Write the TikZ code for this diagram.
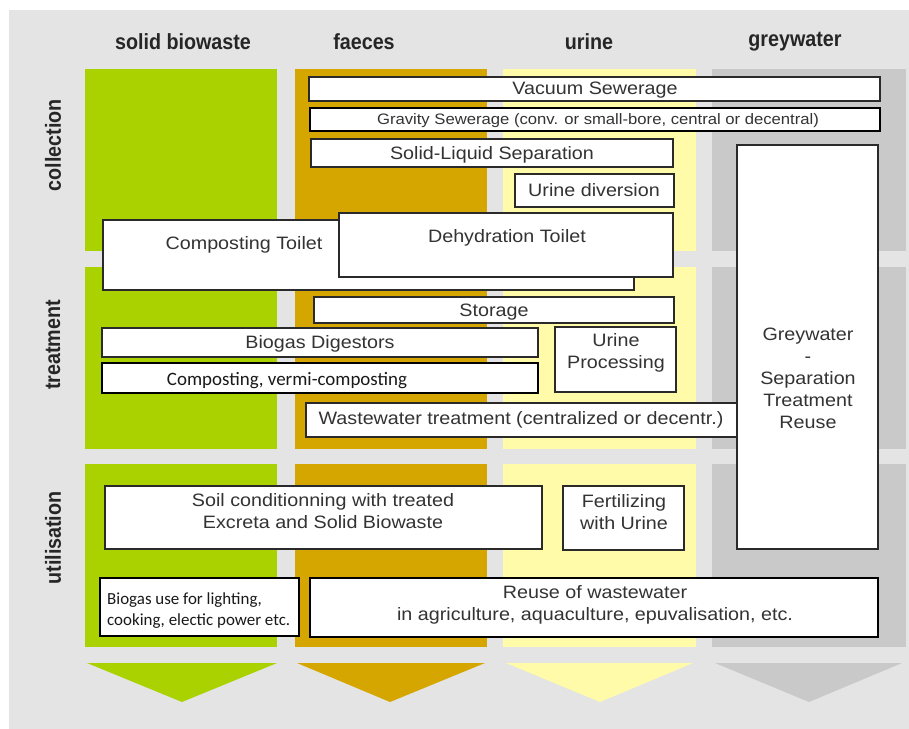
\documentclass[tikz,border=0pt]{standalone}
\usepackage{fontspec}
\setmainfont{Liberation Sans}[FakeStretch=1.1]
\newfontfamily\hdrfont{Liberation Sans}[FakeStretch=0.9]
\newfontfamily\calfont{Carlito}
\definecolor{bgc}{HTML}{E4E4E4}
\definecolor{cgreen}{HTML}{AAD200}
\definecolor{corange}{HTML}{D6A600}
\definecolor{cyellow}{HTML}{FFFBA8}
\definecolor{cgrey}{HTML}{C9C9C9}
\definecolor{boxline}{HTML}{2A2A2A}
\definecolor{txt}{HTML}{333333}
\begin{document}
\begin{tikzpicture}[x=1bp,y=-1bp,
  box/.style={draw=boxline,fill=white,line width=1.4bp,inner sep=0pt,outer sep=0pt,anchor=north west},
  btxt/.style={text=txt,inner sep=0pt,align=center,yshift=-1.5bp,font=\fontsize{18}{22}\selectfont},
  hdr/.style={text=black!85,inner sep=0pt,font=\hdrfont\bfseries\fontsize{22}{26}\selectfont}]
\useasboundingbox (0,0) rectangle (909,729);
\fill[bgc] (9,10) rectangle (909,729);
% column bands
\foreach \xa/\xb/\c in {85/277/cgreen,295/487/corange,503/696/cyellow,712/906/cgrey}{
  \foreach \ya/\yb in {69/251,267/449,464/647}{
    \fill[\c] (\xa,\ya) rectangle (\xb,\yb);
  }
}
% arrows
\fill[cgreen] (87,663) -- (277,663) -- (182,702) -- cycle;
\fill[corange] (297,663) -- (485,663) -- (390,702) -- cycle;
\fill[cyellow] (506,663) -- (693,663) -- (600,702) -- cycle;
\fill[cgrey] (715,663) -- (902,663) -- (809,702) -- cycle;
% headers
\node[hdr] (hsolid) at (183,42) {solid biowaste};
\node[hdr] (hfaeces) at (364,42) {faeces};
\node[hdr] (hurine) at (589,42) {urine};
\node[hdr] (hgrey) at (795,42) {greywater};
\node[hdr,rotate=90] (rcoll) at (53,145) {collection};
\node[hdr,rotate=90] (rtreat) at (53,345) {treatment};
\node[hdr,rotate=90] (rutil) at (53,538) {utilisation};
% collection boxes
\node[box,minimum width=571bp,minimum height=24bp] (vac) at (309,77) {};
\node[btxt] (vact) at (595,89) {Vacuum Sewerage};
\node[box,minimum width=570bp,minimum height=23bp,line width=2bp,draw=black] (grav) at (310,108) {};
\node[btxt,font=\fontsize{15.2}{18}\selectfont] (gravt) at (598,119.5) {Gravity Sewerage (conv. or small-bore, central or decentral)};
\node[box,minimum width=362bp,minimum height=28bp] (sls) at (311,139) {};
\node[btxt] (slst) at (492,153) {Solid-Liquid Separation};
\node[box,minimum width=159bp,minimum height=33bp] (udiv) at (515,174) {};
\node[btxt] (udivt) at (594,188.5) {Urine diversion};
\node[box,minimum width=531bp,minimum height=70bp] (ctoi) at (103,220) {};
\node[btxt] (ctoit) at (244,243) {Composting Toilet};
\node[box,minimum width=334bp,minimum height=64bp] (dtoi) at (339,213) {};
\node[btxt] (dtoit) at (507,236) {Dehydration Toilet};
% treatment boxes
\node[box,minimum width=360bp,minimum height=26bp] (stor) at (314,297) {};
\node[btxt] (stort) at (494,311) {Storage};
\node[box,minimum width=436bp,minimum height=29bp] (bdig) at (102,328) {};
\node[btxt] (bdigt) at (320,342) {Biogas Digestors};
\node[box,minimum width=436bp,minimum height=30bp,line width=1.8bp,draw=black] (comp) at (102,363) {};
\node[btxt,text=black!90,font=\calfont\fontsize{19}{22}\selectfont] (compt) at (287,379) {Composting, vermi-composting};
\node[box,minimum width=121bp,minimum height=65bp] (uproc) at (555,327) {};
\node[btxt] (uproct) at (616,351) {Urine\\Processing};
\node[box,minimum width=431bp,minimum height=34bp] (wwt) at (306,403) {};
\node[btxt] (wwtt) at (521,418) {Wastewater treatment (centralized or decentr.)};
\node[box,minimum width=141bp,minimum height=404bp] (grey) at (737,145) {};
\node[btxt] (greyt) at (808,377) {Greywater\\-\\Separation\\Treatment\\Reuse};
% utilisation boxes
\node[box,minimum width=437bp,minimum height=63bp] (soil) at (105,486) {};
\node[btxt] (soilt) at (323,510) {Soil conditionning with treated\\Excreta and Solid Biowaste};
\node[box,minimum width=121bp,minimum height=64bp] (fert) at (563,486) {};
\node[btxt] (fertt) at (624,511) {Fertilizing\\with Urine};
\node[box,minimum width=199bp,minimum height=58bp,line width=1.8bp,draw=black] (buse) at (100,578) {};
\node[btxt,text=black!90,align=left,anchor=west,font=\calfont\fontsize{17}{21}\selectfont] (buset) at (107,609.5) {Biogas use for lighting,\\cooking, electic power etc.};
\node[box,minimum width=568bp,minimum height=59bp,line width=1.8bp,draw=black] (reuse) at (310,578) {};
\node[btxt] (reuset) at (595,603) {Reuse of wastewater\\in agriculture, aquaculture, epuvalisation, etc.};
\end{tikzpicture}
\end{document}
